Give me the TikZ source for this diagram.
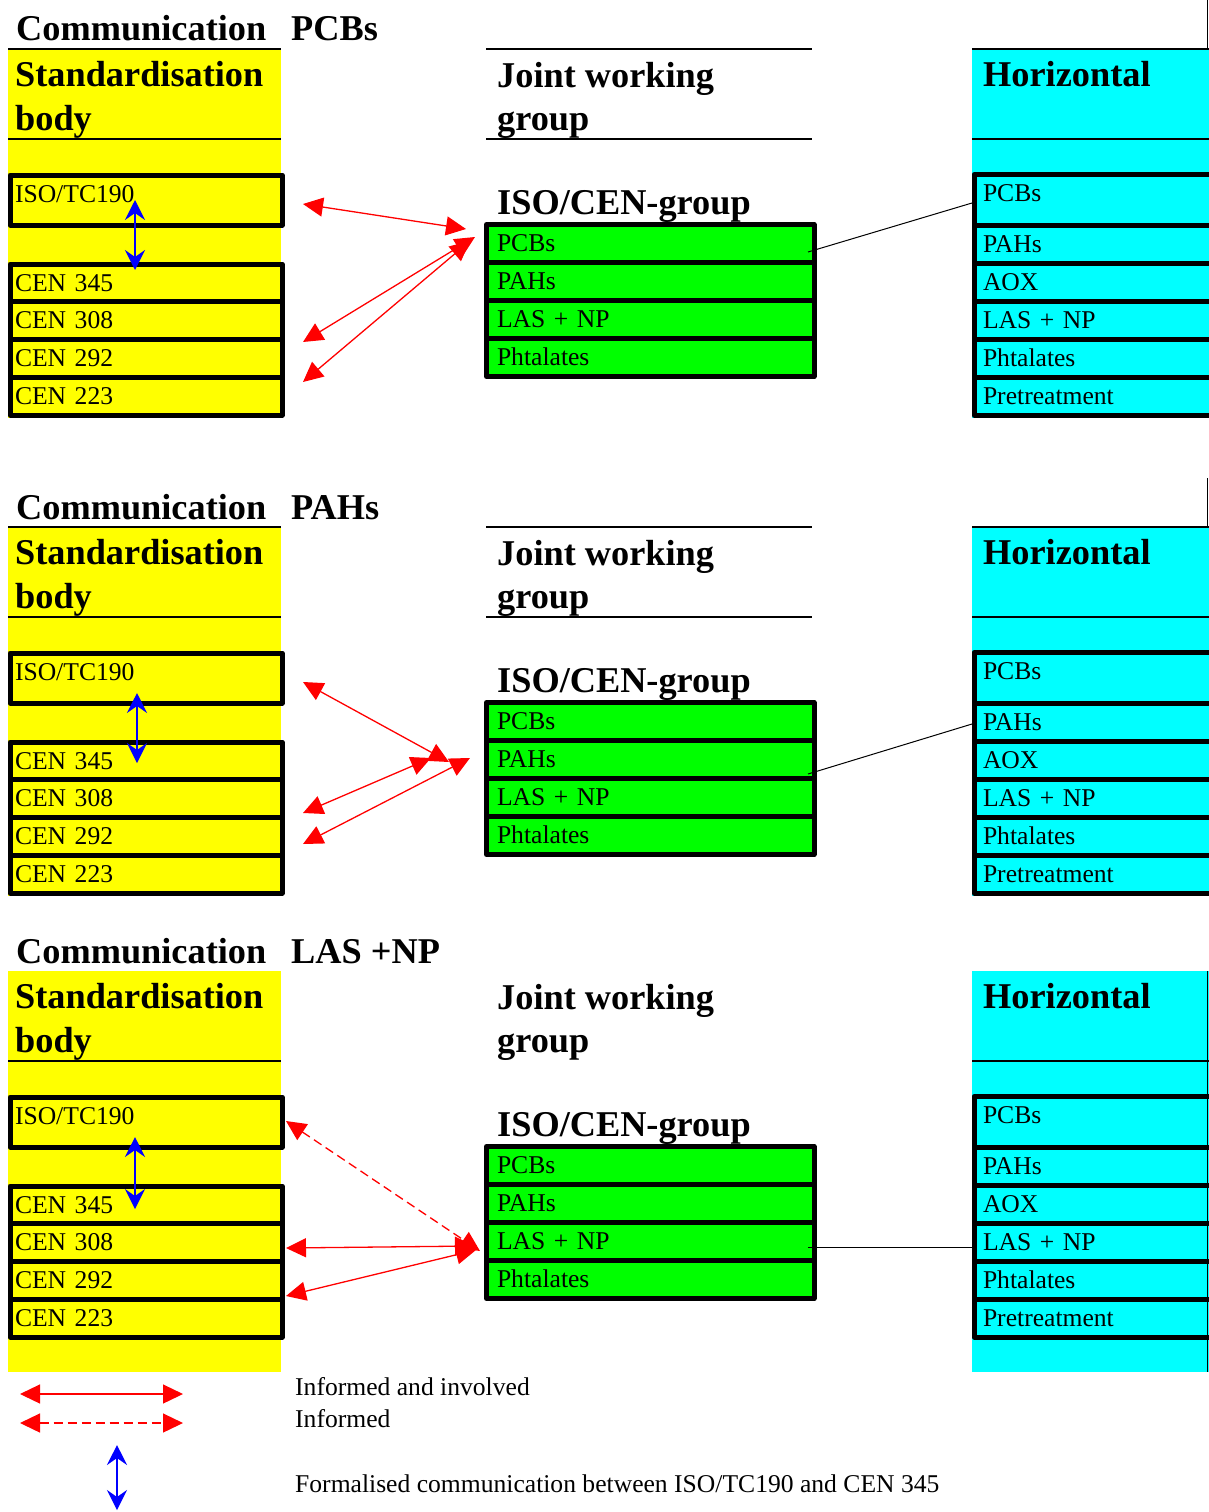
\documentclass[tikz,border=0pt]{standalone}
\usepackage{fontspec}
\setmainfont{Liberation Serif}
\usetikzlibrary{arrows.meta}
\definecolor{ylw}{RGB}{255,255,0}
\definecolor{grn}{RGB}{0,255,0}
\definecolor{aqua}{RGB}{0,255,255}
\newcommand{\rowfont}{\fontsize{25.6}{30}\selectfont}
\newcommand{\headfont}{\fontsize{36.3}{44}\selectfont\bfseries}

\begin{document}
\begin{tikzpicture}[x=1pt, y=-1pt, line join=round,
  head/.style={anchor=base west, inner sep=0pt, font=\headfont},
  lbl/.style={anchor=base west, inner sep=0pt, font=\rowfont},
  rowbox/.style={draw, line width=5pt, anchor=north west, inner ysep=0pt, outer sep=0pt,
    text height=27pt, text depth=10.75pt, align=left, font=\rowfont},
  ybox/.style={rowbox, inner xsep=5pt, text width=262pt},
  gbox/.style={rowbox, fill=grn, inner xsep=10.5pt, text width=306.5pt, text depth=11pt},
  cbox/.style={rowbox, inner xsep=9pt, text width=222pt, text depth=11pt},
  rule/.style={line width=2pt},
  link/.style={line width=1pt},
  both/.style={red, line width=1.3pt,
    arrows={Triangle[length=20pt,width=19pt]-Triangle[length=20pt,width=19pt]}},
  info/.style={both, dash pattern=on 9pt off 5pt},
  formal/.style={blue, line width=1.5pt,
    arrows={Stealth[length=20pt,width=20pt,inset=7pt]-Stealth[length=20pt,width=20pt,inset=7pt]}}]

\useasboundingbox (0,0) rectangle (1208,1512);

% the three panels
\foreach \p/\o/\topic in {1/0/PCBs,2/478/PAHs,3/922/{LAS +NP}}{
\begin{scope}[yshift=-\o pt]
  \ifnum\p<3
    \fill[ylw] (8,49) rectangle (281,418);
    \fill[aqua] (972,49) rectangle (1212,418);
    \draw[rule] (8,49) -- (281,49) (486,49) -- (812,49) (972,49) -- (1212,49);
    \draw[rule] (486,139) -- (812,139);
    \draw[link] (1207,0) -- (1207,49);
  \else
    \fill[ylw] (8,49) rectangle (281,450);
    \fill[aqua] (972,49) rectangle (1212,450);
    \draw[link] (1207,49) -- (1207,450);
  \fi
  \draw[rule] (8,138.5) -- (281,138.5) (972,138.5) -- (1212,138.5);
  % headings
  \node[head] (com\p) at (16,41) {Communication};
  \node[head] (top\p) at (291,41) {\topic};
  \node[head] (sb\p) at (15,86) {Standardisation};
  \node[head] (bo\p) at (15,130) {body};
  \node[head] (jw\p) at (497,87) {Joint working};
  \node[head] (gr\p) at (497,130) {group};
  \node[head] (ic\p) at (497,214.5) {ISO/CEN-group};
  \node[head] (hz\p) at (983,86) {Horizontal};
  % standardisation bodies
  \node[ybox, text depth=23pt] (iso\p) at (10,175) {ISO/TC190};
  \foreach \c [count=\i] in {345,308,292,223}
    \node[ybox] (cen\p-\i) at (10,{264+37.75*(\i-1)}) {CEN \c};
  % joint group
  \foreach \s [count=\i] in {PCBs,PAHs,LAS + NP,Phtalates}
    \node[gbox] (grp\p-\i) at (486.5,{224.5+38*(\i-1)}) {\s};
  % horizontal
  \node[cbox, text depth=23.5pt] (hor\p-1) at (974,174.5) {PCBs};
  \foreach \s [count=\i from 2] in {PAHs,AOX,LAS + NP,Phtalates,Pretreatment}
    \node[cbox] (hor\p-\i) at (974,{225+38*(\i-2)}) {\s};
\end{scope}
}

% links to horizontal
\draw[link] ([xshift=-6pt,yshift=-8.5pt]grp1-1.east) -- ([xshift=-2pt,yshift=-3.25pt]hor1-1.west);
\draw[link] ([xshift=-6pt,yshift=-14.5pt]grp2-2.east) -- ([xshift=-2pt,yshift=-2pt]hor2-2.west);
\draw[link] ([xshift=-6pt,yshift=-5.5pt]grp3-3.east) -- ([xshift=-2pt,yshift=-5pt]hor3-4.west);

% arrows PCBs
\coordinate (a1) at (303,204);  \coordinate (a2) at (466,229);
\coordinate (b1) at (303,342);  \coordinate (b2) at (475,237);
\coordinate (c1) at (303,382);  \coordinate (c2) at (470,241);
\coordinate (f1) at (135,200);  \coordinate (f2) at (135,270);
\draw[both] (a1) -- (a2);
\draw[both] (b1) -- (b2);
\draw[both] (c1) -- (c2);
\draw[formal] (f1) -- (f2);

% arrows PAHs
\coordinate (d1) at (303,682);  \coordinate (d2) at (449,762);
\coordinate (e1) at (303,813);  \coordinate (e2) at (431,758);
\coordinate (g1) at (303,844);  \coordinate (g2) at (470,758);
\coordinate (h1) at (137,693);  \coordinate (h2) at (137,763);
\draw[both] (d1) -- (d2);
\draw[both] (e1) -- (e2);
\draw[both] (g1) -- (g2);
\draw[formal] (h1) -- (h2);

% arrows LAS + NP
\coordinate (m1) at (286,1121); \coordinate (m2) at (480,1251);
\coordinate (n1) at (286,1248); \coordinate (n2) at (475,1246);
\coordinate (q1) at (286,1296); \coordinate (q2) at (476,1250);
\coordinate (r1) at (135,1137); \coordinate (r2) at (135,1209);
\draw[info] (m1) -- (m2);
\draw[both] (n1) -- (n2);
\draw[both] (q1) -- (q2);
\draw[formal] (r1) -- (r2);

% legend
\coordinate (k1a) at (20,1394);  \coordinate (k1b) at (183,1394);
\coordinate (k2a) at (20,1423);  \coordinate (k2b) at (183,1423);
\coordinate (k3a) at (117,1445); \coordinate (k3b) at (117,1510);
\draw[both] (k1a) -- (k1b);
\draw[info] (k2a) -- (k2b);
\draw[formal] (k3a) -- (k3b);
\node[lbl] (l1) at (295,1395) {Informed and involved};
\node[lbl] (l2) at (295,1427) {Informed};
\node[lbl] (l3) at (295,1492) {Formalised communication between ISO/TC190 and CEN 345};
\end{tikzpicture}
\end{document}
